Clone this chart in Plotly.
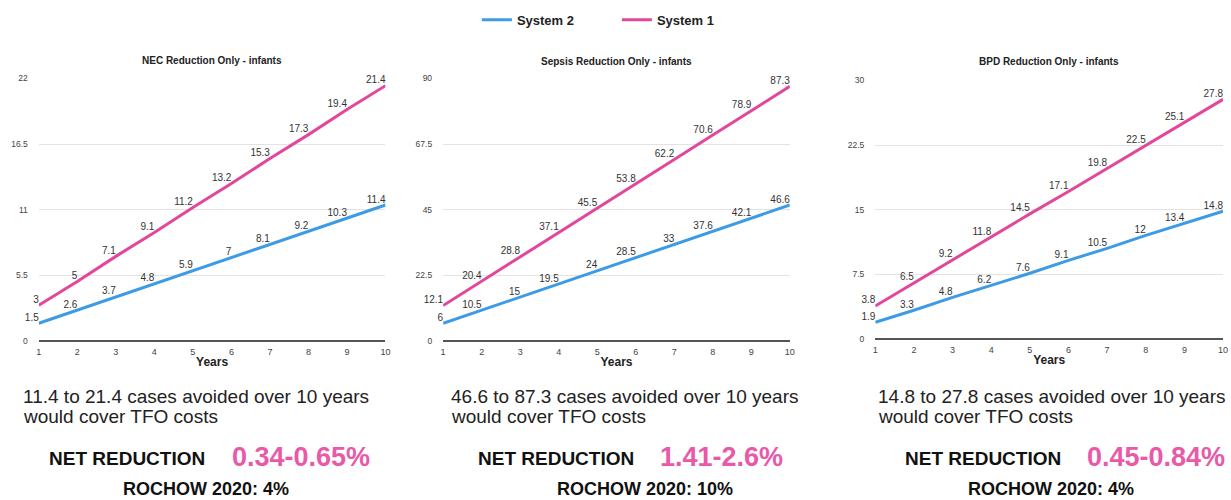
import plotly.graph_objects as go

# ---- data -----------------------------------------------------------------
years = [1, 2, 3, 4, 5, 6, 7, 8, 9, 10]

nec_system1 = [3, 5, 7.1, 9.1, 11.2, 13.2, 15.3, 17.3, 19.4, 21.4]
nec_system2 = [1.5, 2.6, 3.7, 4.8, 5.9, 7, 8.1, 9.2, 10.3, 11.4]

sepsis_system1 = [12.1, 20.4, 28.8, 37.1, 45.5, 53.8, 62.2, 70.6, 78.9, 87.3]
sepsis_system2 = [6, 10.5, 15, 19.5, 24, 28.5, 33, 37.6, 42.1, 46.6]

bpd_system1 = [3.8, 6.5, 9.2, 11.8, 14.5, 17.1, 19.8, 22.5, 25.1, 27.8]
bpd_system2 = [1.9, 3.3, 4.8, 6.2, 7.6, 9.1, 10.5, 12, 13.4, 14.8]

chart_titles = ["NEC Reduction Only - infants",
                "Sepsis Reduction Only - infants",
                "BPD Reduction Only - infants"]
y_ticks = [[0, 5.5, 11, 16.5, 22],
           [0, 22.5, 45, 67.5, 90],
           [0, 7.5, 15, 22.5, 30]]

cases_lines = ["11.4 to 21.4 cases avoided over 10 years",
               "46.6 to 87.3 cases avoided over 10 years",
               "14.8 to 27.8 cases avoided over 10 years"]
net_reduction = ["0.34-0.65%", "1.41-2.6%", "0.45-0.84%"]
rochow = ["ROCHOW 2020: 4%", "ROCHOW 2020: 10%", "ROCHOW 2020: 4%"]

# ---- styling --------------------------------------------------------------
W, H = 1231, 500
BLUE = "#3d9be6"
PINK = "#e2479b"
PINK_TEXT = "#e85aa8"
FONT = "Liberation Sans, Arial, sans-serif"


def px(x):
    return x / W


def py(y):
    return 1 - y / H


# plot-area boxes in pixels: (left, right, top, bottom)
boxes = [(36, 385, 75, 343),
         (443, 792, 75, 342.7),
         (878, 1228, 77, 340.5)]

series = [(nec_system1, nec_system2),
          (sepsis_system1, sepsis_system2),
          (bpd_system1, bpd_system2)]

fig = go.Figure()
layout = dict(
    width=W, height=H,
    margin=dict(l=0, r=0, t=0, b=0),
    paper_bgcolor="white", plot_bgcolor="white",
    font=dict(family=FONT, color="#333"),
    showlegend=True,
    legend=dict(orientation="h", x=px(477), y=py(15), xanchor="left",
                yanchor="middle", entrywidth=95, traceorder="normal",
                font=dict(family=FONT, size=13, color="#222",
                          weight="bold")),
)

annotations = []
for i, ((s1, s2), (l, r, t, b)) in enumerate(zip(series, boxes)):
    n = "" if i == 0 else str(i + 1)
    xa, ya = "x" + n, "y" + n
    for name, vals, color in [("System 2", s2, BLUE), ("System 1", s1, PINK)]:
        fig.add_trace(go.Scatter(
            x=years, y=vals, name=name, xaxis=xa, yaxis=ya,
            mode="lines+text",
            line=dict(color=color, width=3),
            text=[f"{v:g}" if not (i == 1 and v == 53.8) else f"{v}"
                  for v in vals],
            textposition="top left",
            textfont=dict(family=FONT, size=10, color="#333"),
            cliponaxis=False,
            showlegend=(i == 0),
            hoverinfo="x+y+name",
        ))
    ymax = y_ticks[i][-1]
    layout["xaxis" + n] = dict(
        domain=[px(l), px(r)], anchor=ya, range=[1, 10],
        tickmode="array", tickvals=years, showgrid=False,
        zeroline=False, showline=False, ticks="",
        tickfont=dict(family=FONT, size=9, color="#444"),
        ticklabelstandoff=4,
        title=dict(text="Years", standoff=1,
                   font=dict(family=FONT, size=12, color="#222",
                             weight="bold")),
    )
    layout["yaxis" + n] = dict(
        domain=[py(b), py(t)], anchor=xa, range=[0, ymax],
        tickmode="array", tickvals=y_ticks[i],
        ticktext=[f"{v:g}" for v in y_ticks[i]],
        showgrid=True, gridcolor="#e3e3e3", gridwidth=1,
        zeroline=True, zerolinecolor="#555", zerolinewidth=2,
        showline=False, ticks="",
        tickfont=dict(family=FONT, size=8.5, color="#444"),
        ticklabelstandoff=10,
    )
    cx = (l + r) / 2
    annotations.append(dict(
        text=chart_titles[i], x=px(cx), y=py(57 if i == 0 else 58),
        xref="paper", yref="paper", showarrow=False,
        xanchor="center", yanchor="middle",
        font=dict(family=FONT, size=10, color="#222", weight="bold")))

# commentary below each chart
text_left = [18, 449, 879]
net_left = [44, 476, 906]
val_left = [228, 659, 1089]
roch_left = [119, 556, 969]
for i in range(3):
    annotations += [
        dict(text=cases_lines[i], x=px(text_left[i]), y=py(399),
             xanchor="left", yanchor="middle",
             font=dict(family=FONT, size=19, color="#222")),
        dict(text="would cover TFO costs", x=px(text_left[i]), y=py(420),
             xanchor="left", yanchor="middle",
             font=dict(family=FONT, size=19, color="#222")),
        dict(text="NET REDUCTION", x=px(net_left[i]), y=py(463),
             xanchor="left", yanchor="middle",
             font=dict(family=FONT, size=19, color="#111", weight="bold")),
        dict(text=net_reduction[i], x=px(val_left[i]), y=py(461),
             xanchor="left", yanchor="middle",
             font=dict(family=FONT, size=27, color=PINK_TEXT,
                       weight="bold")),
        dict(text=rochow[i], x=px(roch_left[i]), y=py(494),
             xanchor="left", yanchor="middle",
             font=dict(family=FONT, size=18, color="#111", weight="bold")),
    ]
for a in annotations[3:]:
    a.update(xref="paper", yref="paper", showarrow=False)

layout["annotations"] = annotations
fig.update_layout(**layout)
fig.write_html("out.html")
